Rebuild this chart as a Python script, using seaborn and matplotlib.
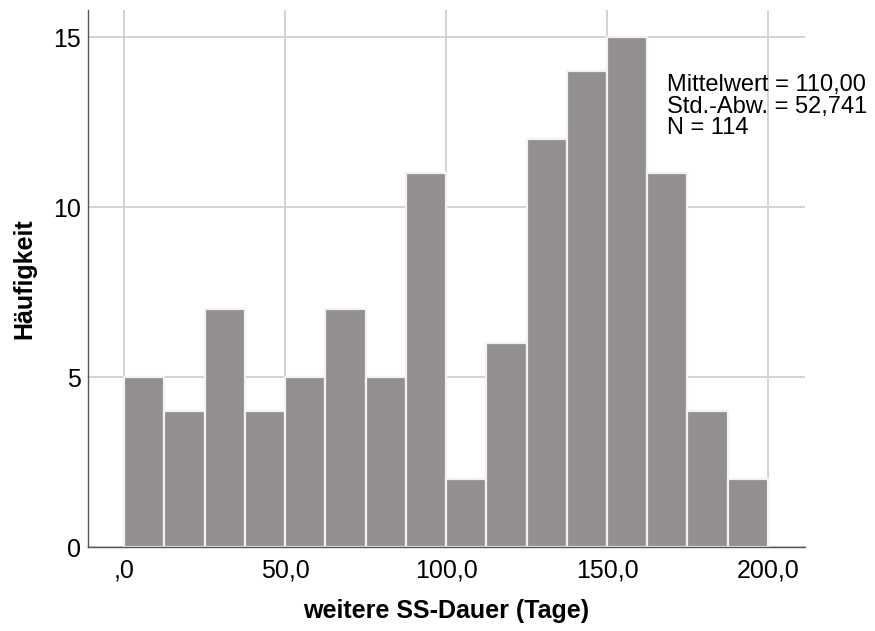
import numpy as np
import pandas as pd
import matplotlib
matplotlib.use("Agg")
import matplotlib.pyplot as plt
import seaborn as sns

# Data
bin_edges = [0, 12.5, 25, 37.5, 50, 62.5, 75, 87.5, 100, 112.5, 125, 137.5, 150, 162.5, 175, 187.5, 200]
counts = [5, 4, 7, 4, 5, 7, 5, 11, 2, 6, 12, 14, 15, 11, 4, 2]
x_ticks = [0, 50, 100, 150, 200]
x_tick_labels = [",0", "50,0", "100,0", "150,0", "200,0"]
y_ticks = [0, 5, 10, 15]
stats_text = ["Mittelwert = 110,00", "Std.-Abw. = 52,741", "N = 114"]

centers = [(bin_edges[i] + bin_edges[i + 1]) / 2 for i in range(len(counts))]
df = pd.DataFrame({"x": centers, "n": counts})

sns.set_theme(style="white")
plt.rcParams["font.family"] = ["Liberation Sans", "DejaVu Sans"]

fig = plt.figure(figsize=(8.75, 6.31), dpi=100)
ax = fig.add_axes([0.1006, 0.1331, 0.8194, 0.8510])

ax.set_axisbelow(True)
sns.histplot(data=df, x="x", weights="n", bins=bin_edges, ax=ax,
             color="#948f8f", alpha=1.0, edgecolor="#f2f2f2", linewidth=1.6)

ax.set_xlim(-11.2, 211.5)
ax.set_ylim(0, 15.8)
ax.set_xticks(x_ticks)
ax.set_xticklabels(x_tick_labels)
ax.set_yticks(y_ticks)
ax.set_yticklabels([str(v) for v in y_ticks])

ax.grid(True, color="#d0d0d0", linewidth=1.3)
for s in ["top", "right"]:
    ax.spines[s].set_visible(False)
for s in ["left", "bottom"]:
    ax.spines[s].set_color("#555555")
    ax.spines[s].set_linewidth(1.0)

ax.tick_params(axis="both", length=0, labelsize=18, colors="black")
ax.tick_params(axis="x", pad=8)
ax.tick_params(axis="y", pad=5)

ax.set_xlabel("weitere SS-Dauer (Tage)", fontsize=18, fontweight="bold",
              labelpad=12, color="black")
ax.set_ylabel("Häufigkeit", fontsize=18, fontweight="bold",
              labelpad=12, color="black")

ax.text(0.807, 0.88, "\n".join(stats_text), transform=ax.transAxes,
        fontsize=17, va="top", ha="left", linespacing=0.96, color="black")

fig.savefig("out.png", dpi=100)
